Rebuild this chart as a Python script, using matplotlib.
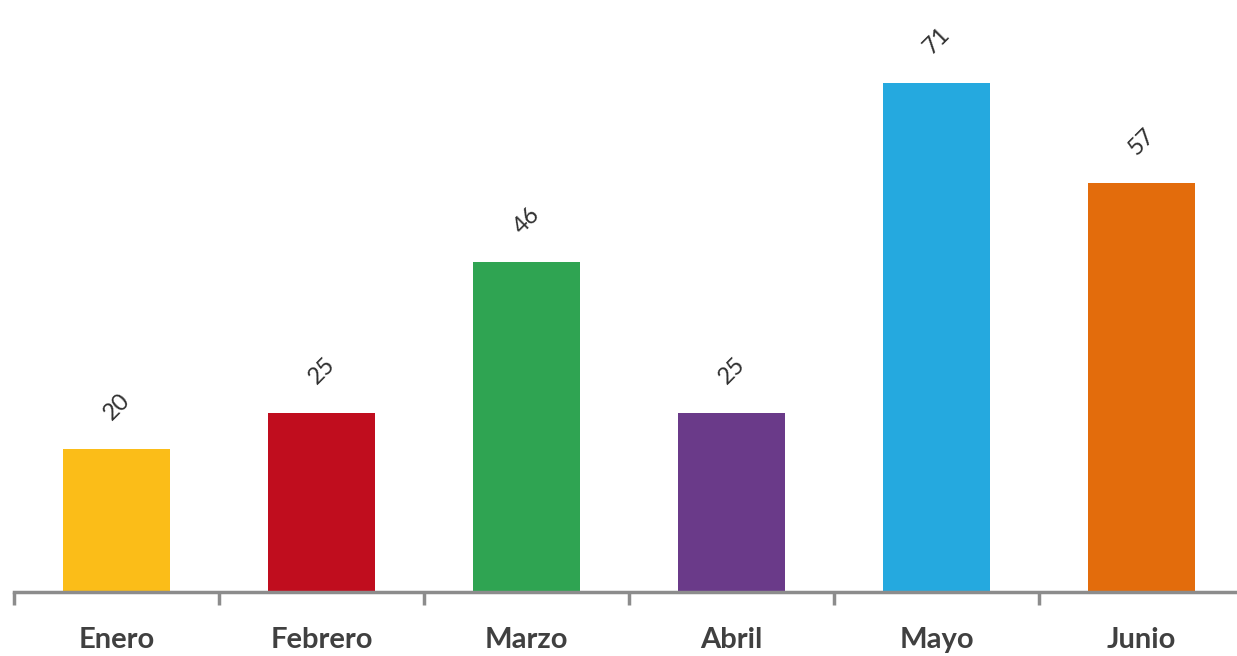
import matplotlib
matplotlib.use("Agg")
import matplotlib.pyplot as plt
import numpy as np

categories = ["Enero", "Febrero", "Marzo", "Abril", "Mayo", "Junio"]
values = [20, 25, 46, 25, 71, 57]
colors = ["#FBBD18", "#C00D1E", "#2FA452", "#6A3A89", "#25A9DF", "#E36C0C"]

fig = plt.figure(figsize=(12.37, 6.56), dpi=100)
W, H = 1237, 656
left_px, right_px = 14, 14 + 6 * 205
base_px, top_px = 592, 18
ax = fig.add_axes([left_px / W, (H - base_px) / H, (right_px - left_px) / W, (base_px - top_px) / H])

x = np.arange(len(categories))
ax.bar(x, values, width=0.52, color=colors, zorder=2)
ax.set_xlim(-0.5, len(categories) - 0.5)
ax.set_ylim(0, 80)

for s in ["top", "right", "left"]:
    ax.spines[s].set_visible(False)
ax.spines["bottom"].set_color("#8C8C8C")
ax.spines["bottom"].set_linewidth(2.5)
ax.set_yticks([])

ax.set_xticks(np.arange(-0.5, len(categories), 1.0))
ax.set_xticklabels([])
ax.set_xticks(x, minor=True)
ax.set_xticklabels(categories, minor=True, fontsize=21, fontweight="bold",
                   color="#404040", family="Lato")
ax.tick_params(axis="x", which="major", direction="out", length=9, width=2.5, color="#8C8C8C")
ax.tick_params(axis="x", which="minor", length=0, pad=25)

for xi, v in zip(x, values):
    ax.annotate(str(v), xy=(xi, v), xytext=(0, 30), textcoords="offset points",
                ha="center", va="center", rotation=45, fontsize=17,
                color="#303030", family="Lato")

fig.savefig("out.png", dpi=100)
